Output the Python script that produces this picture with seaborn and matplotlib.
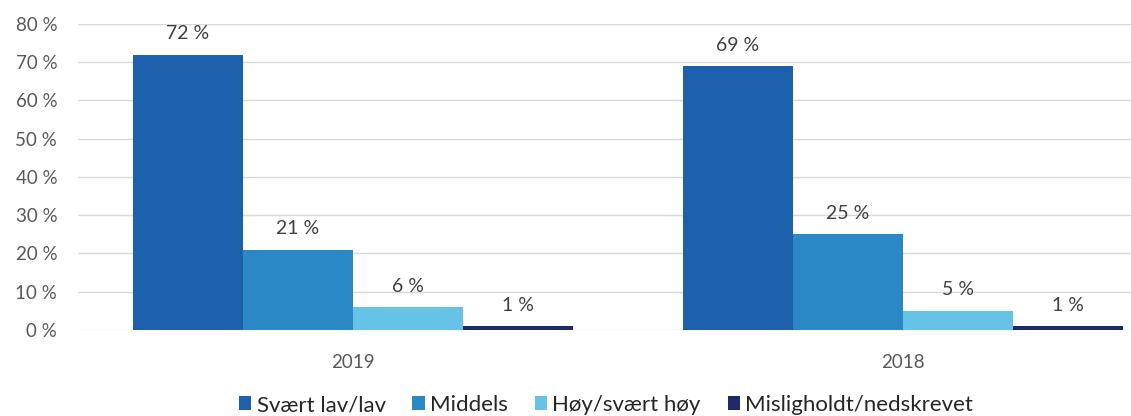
import matplotlib
matplotlib.use("Agg")
import matplotlib.pyplot as plt
import seaborn as sns
import pandas as pd

years = ["2019", "2018"]
categories = ["Svært lav/lav", "Middels", "Høy/svært høy", "Misligholdt/nedskrevet"]
values_2019 = [72, 21, 6, 1]
values_2018 = [69, 25, 5, 1]
colors = ["#1D60AB", "#2A88C7", "#66C3E6", "#1B2A6B"]

rows = []
for year, vals in zip(years, [values_2019, values_2018]):
    for cat, v in zip(categories, vals):
        rows.append({"year": year, "cat": cat, "value": v})
df = pd.DataFrame(rows)

sns.set_theme(style="white")
plt.rcParams["font.family"] = ["Lato", "DejaVu Sans"]

fig = plt.figure(figsize=(11.31, 4.16), dpi=100)
ax = fig.add_axes([78/1131, 1-330/416, 1-78/1131, (330-24)/416])

sns.barplot(data=df, x="year", y="value", hue="cat", order=years, hue_order=categories,
            palette=colors, width=0.8, saturation=1, ax=ax, legend=True, linewidth=0)

ax.set_ylim(0, 80)
ax.set_xlim(-0.5, (1131-353)/550)
ax.set_yticks(range(0, 81, 10))
ax.set_yticklabels([f"{t} %" for t in range(0, 81, 10)])
ax.grid(axis="y", color="#D9D9D9", linewidth=1)
ax.set_axisbelow(True)
for s in ax.spines.values():
    s.set_visible(False)
ax.set_xlabel("")
ax.set_ylabel("")
ax.tick_params(axis="both", length=0, labelsize=13.5, labelcolor="#595959")
ax.tick_params(axis="x", pad=17)
ax.tick_params(axis="y", pad=15)

for cont in ax.containers:
    ax.bar_label(cont, labels=[f"{int(v)} %" for v in cont.datavalues], padding=9,
                 fontsize=14, color="#404040")

handles, labels = ax.get_legend_handles_labels()
ax.get_legend().remove()
fig.legend(handles, labels, loc="center", bbox_to_anchor=(606/1131, 1-405/416),
           ncol=4, frameon=False, fontsize=16, handlelength=0.55, handleheight=0.55,
           handletextpad=0.25, columnspacing=1.2, labelcolor="#262626")

fig.savefig("out.png", dpi=100)
